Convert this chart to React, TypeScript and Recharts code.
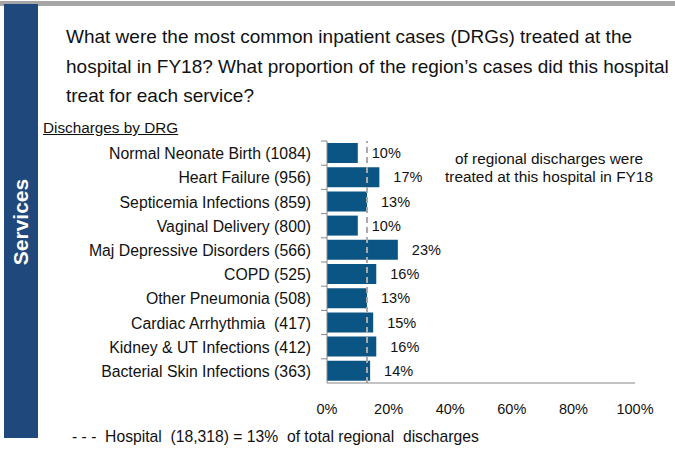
import { Bar, BarChart, LabelList, ReferenceLine, XAxis, YAxis } from "recharts";

const drgs = [
  "Normal Neonate Birth (1084)",
  "Heart Failure (956)",
  "Septicemia Infections (859)",
  "Vaginal Delivery (800)",
  "Maj Depressive Disorders (566)",
  "COPD (525)",
  "Other Pneumonia (508)",
  "Cardiac Arrhythmia  (417)",
  "Kidney & UT Infections (412)",
  "Bacterial Skin Infections (363)",
];
const share = [0.1, 0.17, 0.13, 0.1, 0.23, 0.16, 0.13, 0.15, 0.16, 0.14];
const hospitalShare = 0.13;
const xTicks = [0, 0.2, 0.4, 0.6, 0.8, 1];

const data = drgs.map((name, i) => ({ name, share: share[i] }));
const pct = (v: number) => `${Math.round(v * 100)}%`;
const font = "'Liberation Sans', Arial, sans-serif";

function DrgTick(props: any) {
  const { x, y, payload } = props;
  const half = 12.1;
  return (
    <g>
      <line x1={x - 6} x2={x} y1={y - half} y2={y - half} stroke="#888" />
      <text x={x - 16} y={y} dy={6} textAnchor="end" fontSize={15.8} fill="#111" fontFamily={font} style={{ whiteSpace: "pre" }}>
        {payload.value}
      </text>
    </g>
  );
}

export default function App() {
  return (
    <div style={{ position: "absolute", left: 0, top: 0, width: 675, height: 449, background: "#fff", fontFamily: font, color: "#111" }}>
      <div style={{ position: "absolute", left: 0, top: 1, width: 675, height: 5, background: "#a6a6a6" }} />
      <div style={{ position: "absolute", left: 4, top: 4, width: 34, height: 434, background: "#1f497d" }} />
      <div
        style={{
          position: "absolute",
          left: 21,
          top: 222,
          transform: "translate(-50%, -50%) rotate(-90deg)",
          color: "#fff",
          fontWeight: "bold",
          fontSize: 21,
          whiteSpace: "nowrap",
        }}
      >
        Services
      </div>
      <div style={{ position: "absolute", left: 66, top: 22, fontSize: 19, lineHeight: "29.5px", whiteSpace: "nowrap" }}>
        What were the most common inpatient cases (DRGs) treated at the
        <br />
        hospital in FY18? What proportion of the region’s cases did this hospital
        <br />
        treat for each service?
      </div>
      <div style={{ position: "absolute", left: 43, top: 119, fontSize: 15.3, textDecoration: "underline", whiteSpace: "nowrap" }}>
        Discharges by DRG
      </div>
      <div style={{ position: "absolute", left: 438, top: 150, width: 222, fontSize: 15.4, textAlign: "center", lineHeight: "18px", whiteSpace: "nowrap" }}>
        of regional discharges were
        <br />
        treated at this hospital in FY18
      </div>
      <div style={{ position: "absolute", left: 72, top: 428, fontSize: 15.7, whiteSpace: "pre" }}>
        {"- - -  Hospital  (18,318) = 13%  of total regional  discharges"}
      </div>
      <div style={{ position: "absolute", left: 0, top: 0 }}>
        <BarChart
          width={675}
          height={449}
          data={data}
          layout="vertical"
          margin={{ top: 141, right: 40, bottom: 36, left: 0 }}
          barSize={20}
        >
          <XAxis
            type="number"
            domain={[0, 1]}
            ticks={xTicks}
            tickFormatter={pct}
            axisLine={{ stroke: "#888" }}
            tickLine={false}
            tick={{ fontSize: 14.5, fill: "#111", fontFamily: font }}
            tickMargin={15}
            height={30}
          />
          <YAxis
            type="category"
            dataKey="name"
            width={327}
            axisLine={{ stroke: "#888" }}
            tickLine={false}
            tickSize={0}
            tickMargin={0}
            tick={<DrgTick />}
            interval={0}
          />
          <Bar dataKey="share" fill="#0b5584" isAnimationActive={false}>
            <LabelList
              dataKey="share"
              position="right"
              offset={14}
              formatter={(v: any) => pct(Number(v))}
              style={{ fontSize: 14.5, fill: "#111", fontFamily: font }}
            />
          </Bar>
          <ReferenceLine x={hospitalShare} stroke="#aaa" strokeWidth={2} strokeDasharray="6 4" />
        </BarChart>
      </div>
    </div>
  );
}
